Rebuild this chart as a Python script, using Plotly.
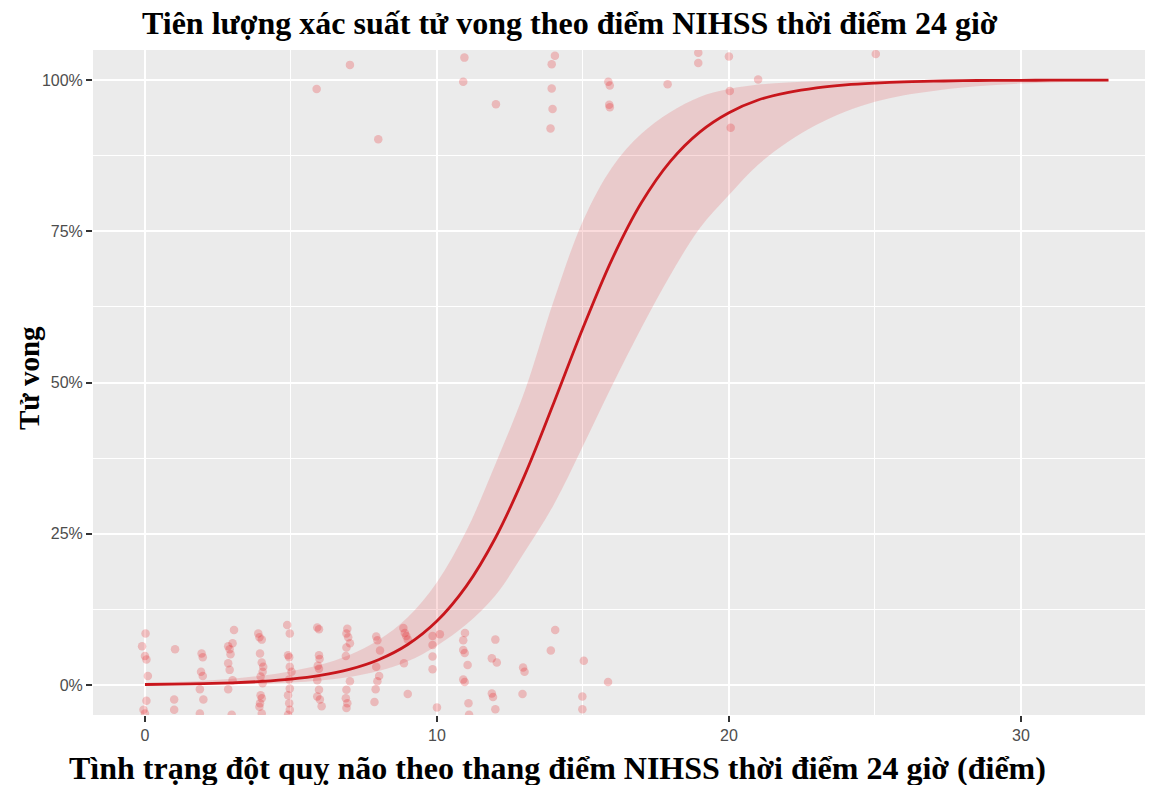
import plotly.graph_objects as go

# ---- fitted curve, percent ----
fit_x = list(range(0, 34))
fit_y = [0.08, 0.13, 0.22, 0.36, 0.59, 0.96, 1.58, 2.57, 4.17, 6.69, 10.57, 16.3, 24.3, 34.6,
         46.6, 59.0, 70.4, 79.7, 86.6, 91.4, 94.6, 96.7, 97.9, 98.7, 99.2, 99.5, 99.7, 99.8,
         99.9, 99.93, 99.95, 99.97, 99.98, 99.99]
ci_upper = [0.34, 0.49, 0.72, 1.05, 1.54, 2.26, 3.34, 4.96, 7.42, 11.2, 17.0, 25.4, 36.5, 48.5,
            63.5, 76.7, 85.6, 91.1, 94.7, 97.2, 98.5, 99.25, 99.6, 99.8, 99.89, 99.94, 99.97,
            99.98, 99.99, 99.99, 100, 100, 100, 100]
ci_lower = [0.02, 0.035, 0.065, 0.12, 0.22, 0.41, 0.74, 1.32, 2.30, 3.91, 6.5, 10.0, 14.8, 22.0,
            29.8, 39.5, 49.5, 59.0, 67.8, 75.5, 81.0, 86.0, 89.7, 92.6, 94.8, 96.4, 97.5, 98.2,
            98.77, 99.14, 99.41, 99.59, 99.72, 99.80]

# ---- jittered observations (NIHSS score, death 0/100 % with jitter) ----
pts_x = [0.02, -0.1, 0.0, 0.05, 0.1, 0.05, -0.05, 0.0,
         1.03, 1.0, 1.0,
         1.94, 1.98, 1.92, 1.98, 1.88, 2.0, 1.88,
         3.05, 3.0, 2.85, 2.9, 2.93, 2.85, 2.9, 3.0, 2.85, 2.97,
         3.88, 3.92, 4.0, 3.94, 4.0, 4.05, 4.03, 3.96, 4.03, 3.96, 4.0, 3.94, 3.92, 4.0,
         4.87, 4.96, 4.9, 4.94, 4.96, 5.02, 4.94, 4.96, 4.9, 4.94, 4.96, 4.9,
         5.9, 5.96, 5.96, 5.98, 5.92, 5.96, 5.9, 5.96, 5.9, 5.99, 6.05,
         6.93, 6.9, 6.96, 7.02, 6.9, 6.88, 7.02, 6.9, 6.88, 6.93, 6.9,
         7.92, 7.96, 8.05, 7.92, 8.02, 7.96, 7.9, 7.86,
         8.85, 8.9, 8.95, 9.0, 8.87, 9.0,
         9.85, 10.1, 9.85, 9.85, 9.85, 10.0,
         10.96, 10.9, 10.9, 10.95, 11.05, 10.9, 10.95, 11.08, 11.1,
         12.0, 11.88, 12.05, 11.88, 11.92, 12.0,
         12.95, 13.0, 12.93,
         14.05, 13.9,
         15.03, 14.98, 14.98,
         15.86,
         7.02, 5.88, 7.99, 10.94, 10.9, 12.02, 14.04, 13.93, 13.93, 13.96, 13.89,
         15.87, 15.92, 15.9, 15.92, 17.9, 18.95, 18.95, 20.0, 20.03, 20.06, 21.0, 25.03]
pts_y = [8.5, 6.4, 4.8, 4.2, 1.5, -2.6, -4.1, -4.7,
         5.9, -2.4, -4.1,
         5.2, 4.6, 2.2, 1.5, -0.7, -2.4, -4.7,
         9.1, 6.9, 6.4, 5.9, 5.1, 3.6, 2.5, 0.8, -0.7, -4.9,
         8.5, 7.9, 7.5, 5.2, 3.7, 3.0, 2.2, 1.4, 0.3, -1.7, -2.2, -3.0, -3.6, -4.7,
         9.9, 8.5, 4.9, 4.6, 3.0, 2.2, 0.9, -0.6, -1.7, -3.0, -4.1, -4.9,
         9.5, 9.2, 4.9, 4.3, 3.2, 2.7, 0.8, -0.8, -1.9, -2.4, -3.5,
         9.3, 8.5, 7.9, 6.9, 6.2, 4.8, 0.6, -0.8, -2.2, -3.0, -3.8,
         8.0, 7.4, 5.7, 3.0, 1.5, 0.6, -0.7, -2.8,
         9.4, 8.6, 8.1, 7.5, 3.6, -1.5,
         8.1, 8.4, 6.6, 4.7, 2.6, -3.7,
         8.6, 7.4, 5.8, 5.3, 3.3, 0.9, 0.5, -3.0, -4.9,
         7.5, 4.4, 3.7, -1.4, -2.0, -4.0,
         2.9, 2.2, -1.5,
         9.1, 5.7,
         4.0, -1.9, -4.0,
         0.5,
         102.5, 98.5, 90.2, 103.7, 99.7, 96.0, 104.0, 102.6, 98.6, 95.2, 92.0,
         99.7, 99.1, 95.9, 95.5, 99.3, 104.5, 102.8, 103.9, 98.2, 92.1, 100.1, 104.3]

x_ticks = [0, 10, 20, 30]
y_ticks = [0, 25, 50, 75, 100]
y_ticklabels = ["0%", "25%", "50%", "75%", "100%"]

title_text = "Tiên lượng xác suất tử vong theo điểm NIHSS thời điểm 24 giờ"
xtitle_text = "Tình trạng đột quỵ não theo thang điểm NIHSS thời điểm 24 giờ (điểm)"
ytitle_text = "Tử vong"

fig = go.Figure()

fig.add_trace(go.Scatter(
    x=pts_x, y=pts_y, mode="markers",
    marker=dict(size=8.5, color="rgba(228,26,28,0.24)", line=dict(width=0)),
    hoverinfo="skip", showlegend=False))

fig.add_trace(go.Scatter(
    x=fit_x, y=ci_lower, mode="lines", line=dict(width=0, shape="spline"),
    hoverinfo="skip", showlegend=False))
fig.add_trace(go.Scatter(
    x=fit_x, y=ci_upper, mode="lines", line=dict(width=0, shape="spline"),
    fill="tonexty", fillcolor="rgba(228,40,45,0.17)",
    hoverinfo="skip", showlegend=False))
fig.add_trace(go.Scatter(
    x=fit_x, y=fit_y, mode="lines", line=dict(width=2.8, color="rgb(200,22,28)", shape="spline"),
    showlegend=False))

PL, PR, PT, PB = 93, 1145, 50, 715
W, H = 1157, 785

serif = "Liberation Serif, Times New Roman, serif"

fig.update_layout(
    width=W, height=H,
    margin=dict(l=PL, r=W - PR, t=PT, b=H - PB, pad=0),
    paper_bgcolor="white", plot_bgcolor="#EBEBEB",
    font=dict(family="Liberation Sans, Arial, sans-serif", color="#4D4D4D"),
    xaxis=dict(range=[-1.78, 34.25], tickvals=x_ticks, showgrid=True, gridcolor="white",
               gridwidth=1.8, zeroline=False, ticks="outside", ticklen=6, tickwidth=2,
               tickcolor="#333333", tickfont=dict(size=16, color="#4D4D4D"),
               minor=dict(tick0=0, dtick=5, showgrid=True, gridcolor="white", gridwidth=0.9, ticks=""),
               showline=False),
    yaxis=dict(range=[-4.96, 104.96], tickvals=y_ticks, ticktext=y_ticklabels, showgrid=True,
               gridcolor="white", gridwidth=1.8, zeroline=False, ticks="outside", ticklen=6,
               tickwidth=2, tickcolor="#333333", tickfont=dict(size=16, color="#4D4D4D"),
               minor=dict(tick0=0, dtick=12.5, showgrid=True, gridcolor="white", gridwidth=0.9, ticks=""),
               showline=False),
    annotations=[
        dict(text="<b>" + title_text + "</b>", xref="paper", yref="paper",
             x=(570 - PL) / (PR - PL), y=(PB - 23) / (PB - PT), xanchor="center", yanchor="middle",
             showarrow=False, font=dict(family=serif, size=32, color="black")),
        dict(text="<b>" + xtitle_text + "</b>", xref="paper", yref="paper",
             x=(557 - PL) / (PR - PL), y=(PB - 768) / (PB - PT), xanchor="center", yanchor="middle",
             showarrow=False, font=dict(family=serif, size=32, color="black")),
        dict(text="<b>" + ytitle_text + "</b>", xref="paper", yref="paper", textangle=-90,
             x=(29 - PL) / (PR - PL), y=(PB - 378) / (PB - PT), xanchor="center", yanchor="middle",
             showarrow=False, font=dict(family=serif, size=29, color="black")),
    ],
)

fig.write_html("out.html")
